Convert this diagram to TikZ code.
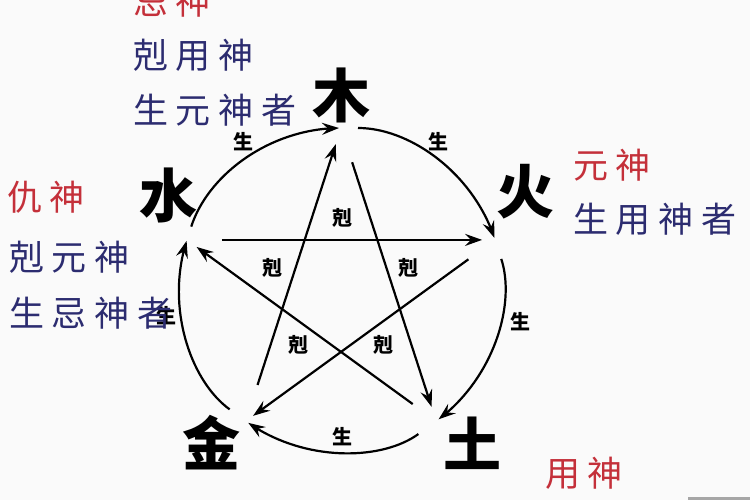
\documentclass[tikz,border=0pt]{standalone}
\usepackage{fontspec}
\newfontfamily\cjk{Noto Sans CJK SC}
\newfontfamily\cjksp[LetterSpace=22]{Noto Sans CJK SC}
\usetikzlibrary{arrows.meta,bending}
\definecolor{redtxt}{HTML}{C4303A}
\definecolor{navytxt}{HTML}{2C2C70}
\definecolor{bgcol}{HTML}{FAFAFA}
\tikzset{
  element/.style={inner sep=0pt,font=\cjk\bfseries\fontsize{58}{58}\selectfont},
  sidered/.style={inner sep=0pt,anchor=west,text=redtxt,font=\cjksp\fontsize{35}{35}\selectfont},
  sideblue/.style={inner sep=0pt,anchor=west,text=navytxt,font=\cjksp\fontsize{35}{35}\selectfont},
  small/.style={inner sep=0pt,font=\cjk\bfseries\fontsize{20}{20}\selectfont},
  tip/.style={-{Stealth[length=17pt,width=12pt,inset=6pt]}},
  sheng/.style={tip,line width=2.2pt,bend left=36,looseness=0.94},
  ke/.style={tip,line width=2.2pt},
}
\begin{document}
\begin{tikzpicture}[x=1pt,y=1pt]
\useasboundingbox (0,-500) rectangle (750,0);
\fill[bgcol] (0,-500) rectangle (750,0);
\clip (0,-500) rectangle (750,0);
% vertices
\coordinate (O) at (341,-290);
\coordinate (vWo) at (341,-128);
\coordinate (vF) at (495.1,-239.9);
\coordinate (vE) at (436.2,-421.1);
\coordinate (vM) at (245.8,-421.1);
\coordinate (vWa) at (186.9,-239.9);
% sheng cycle (circle arcs)
\draw[sheng,shorten <=14pt,shorten >=2pt] (vWa) to (vWo);
\draw[sheng,shorten <=17pt,shorten >=2pt] (vWo) to (vF);
\draw[sheng,shorten <=20pt,shorten >=3pt] (vF) to (vE);
\draw[sheng,shorten <=22pt,shorten >=3pt] (vE) to (vM);
\draw[sheng,shorten <=20pt,shorten >=1pt] (vM) to (vWa);
% ke cycle (pentagram)
\draw[ke,shorten <=36pt,shorten >=15pt] (vWo) -- (vE);
\draw[ke,shorten <=29pt,shorten >=12pt] (vE) -- (vWa);
\draw[ke,shorten <=35pt,shorten >=13pt] (vWa) -- (vF);
\draw[ke,shorten <=33pt,shorten >=9pt] (vF) -- (vM);
\draw[ke,shorten <=38pt,shorten >=17pt] (vM) -- (vWo);
% element characters
\node[element] (wood)  at (341,-95)  {木};
\node[element] (fire)  at (525,-192) {火};
\node[element] (water) at (168,-195) {水};
\node[element] (metal) at (211,-443) {金};
\node[element] (earth) at (472,-443) {土};
% sheng labels
\node[small] (s1) at (243,-142) {生};
\node[small] (s2) at (438,-142) {生};
\node[small] (s3) at (520,-322) {生};
\node[small] (s4) at (342,-437) {生};
\node[small] (s5) at (166,-316) {生};
% ke labels
\node[small] (k1) at (342,-218) {剋};
\node[small] (k2) at (272,-268) {剋};
\node[small] (k3) at (408,-268) {剋};
\node[small] (k4) at (298,-345) {剋};
\node[small] (k5) at (383,-345) {剋};
% side texts
\node[sidered]  (t1) at (133,-1)   {忌神};
\node[sideblue] (t2) at (133,-55)  {剋用神};
\node[sideblue] (t3) at (133,-110) {生元神者};
\node[sidered]  (t4) at (7,-197)   {仇神};
\node[sideblue] (t5) at (9,-257)   {剋元神};
\node[sideblue] (t6) at (9,-313)   {生忌神者};
\node[sidered]  (t7) at (573,-165) {元神};
\node[sideblue] (t8) at (573,-219) {生用神者};
\node[sidered]  (t9) at (545,-473) {用神};
% corner bar
\fill[gray!70] (688,-500) rectangle (750,-497);
\end{tikzpicture}
\end{document}
